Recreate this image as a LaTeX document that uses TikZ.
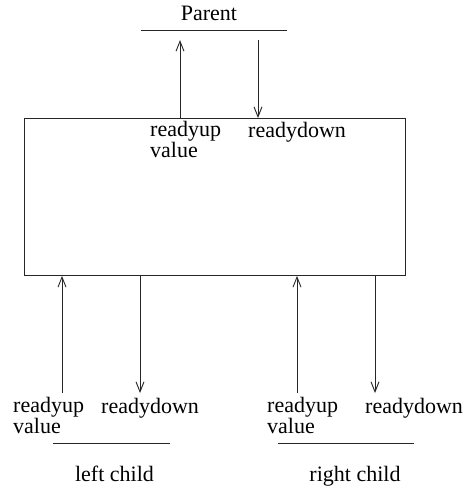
\documentclass[tikz,border=0pt]{standalone}
\usepackage{fontspec}
\setmainfont{Liberation Serif}
\usetikzlibrary{arrows.meta}
\begin{document}
\begin{tikzpicture}[x=1pt,y=-1pt,
  lbl/.style={anchor=base west,inner sep=0pt,font=\fontsize{22}{24}\selectfont},
  lbl2/.style={anchor=north west,inner sep=0pt,align=left,font=\fontsize{22}{16}\selectfont},
  ttl/.style={anchor=base,inner sep=0pt,font=\fontsize{22}{24}\selectfont},
  arr/.style={draw=black!85,line width=0.9pt,-{Straight Barb[length=10pt,width=8pt,line width=0.9pt]}},
  ln/.style={draw=black!85,line width=0.9pt}]
\useasboundingbox (0,0) rectangle (468,491);
% main box
\node[draw=black!85,line width=0.9pt,minimum width=381pt,minimum height=157pt,inner sep=0pt,anchor=north west] (proc) at (24,118) {};
% parent
\node[ttl] (parent) at (209,20) {Parent};
\coordinate (pl1) at (141,30); \coordinate (pl2) at (287,30);
\draw[ln] (pl1) -- (pl2);
\coordinate (pUp) at (180,40); \coordinate (pDown) at (258,40);
\draw[arr] (proc.north -| pUp) -- (pUp);
\draw[arr] (pDown) -- (proc.north -| pDown);
\node[lbl2] (tRu) at (150,121) {readyup\\value};
\node[lbl] (tRd) at (248,137) {readydown};
% left child
\coordinate (lUp) at (62,393); \coordinate (lDown) at (140,393);
\draw[arr] (lUp) -- (proc.south -| lUp);
\draw[arr] (proc.south -| lDown) -- (lDown);
\node[lbl2] (lRu) at (13,397) {readyup\\value};
\node[lbl] (lRd) at (101,413) {readydown};
\coordinate (ll1) at (53,443); \coordinate (ll2) at (170,443);
\draw[ln] (ll1) -- (ll2);
\node[ttl] (lchild) at (114.5,481) {left child};
% right child
\coordinate (rUp) at (297,393); \coordinate (rDown) at (375,393);
\draw[arr] (rUp) -- (proc.south -| rUp);
\draw[arr] (proc.south -| rDown) -- (rDown);
\node[lbl2] (rRu) at (267,397) {readyup\\value};
\node[lbl] (rRd) at (365,413) {readydown};
\coordinate (rl1) at (278,443); \coordinate (rl2) at (414,443);
\draw[ln] (rl1) -- (rl2);
\node[ttl] (rchild) at (355,481) {right child};
\end{tikzpicture}
\end{document}
